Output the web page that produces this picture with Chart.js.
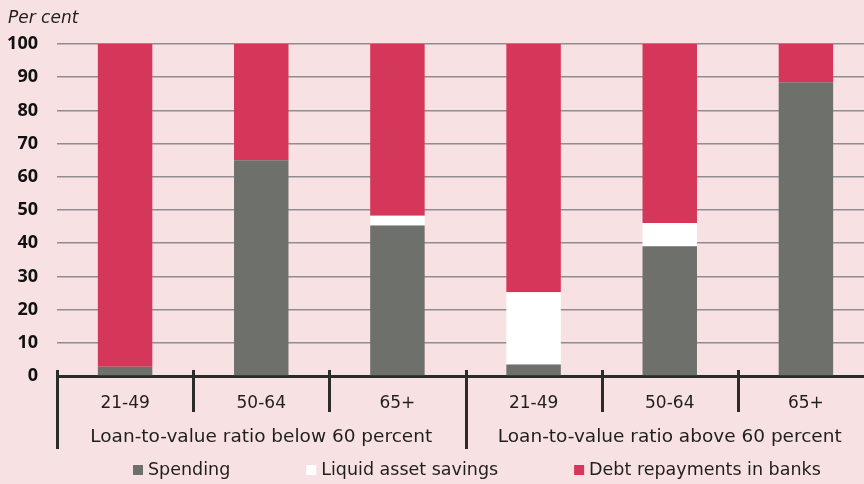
<!DOCTYPE html>
<html>
<head>
<meta charset="utf-8">
<script src="https://cdn.jsdelivr.net/npm/chart.js@4.4.1/dist/chart.umd.min.js"></script>
<style>
  html, body { margin: 0; padding: 0; background: #f8e1e2; }
  #wrap { width: 864px; height: 484px; overflow: hidden; position: relative; }
  canvas { display: block; }
</style>
</head>
<body>
<div id="wrap"><canvas id="c" width="874" height="484"></canvas></div>
<script>
// Age bands, one bar each, grouped by loan-to-value ratio
const ageBands = ['21-49', '50-64', '65+', '21-49', '50-64', '65+'];
const groupLabels = ['Loan-to-value ratio below 60 percent', 'Loan-to-value ratio above 60 percent'];
const groupSize = 3;

// Share of each use, per cent
const spending = [2.8, 65, 45.3, 3.5, 39.1, 88.5];
const liquidSavings = [0, 0, 3.0, 21.7, 7.0, 0];
const debtRepayments = [97.2, 35, 51.7, 74.8, 53.9, 11.5];

const seriesNames = ['Spending', 'Liquid asset savings', 'Debt repayments in banks'];
const yTicks = [0, 10, 20, 30, 40, 50, 60, 70, 80, 90, 100];

const FONT = '"DejaVu Sans", "Open Sans", sans-serif';
const NUMFONT = '"Open Sans", "DejaVu Sans", sans-serif';
const INK = '#1f1f1d';
const AXIS = '#2b2b29';

// Separators, group captions, unit label and legend row
const decorations = {
  id: 'decorations',
  afterDraw(chart) {
    const { ctx, scales } = chart;
    const x = scales.x, y = scales.y;
    const base = y.getPixelForValue(0);
    ctx.save();
    ctx.strokeStyle = AXIS;
    ctx.lineWidth = 3;
    for (let i = 0; i <= ageBands.length; i++) {
      const px = Math.round(x.getPixelForValue(i - 0.5)) + 0.5;
      const long = i % groupSize === 0;
      ctx.beginPath();
      ctx.moveTo(px, base - 6);
      ctx.lineTo(px, long ? base + 73 : base + 36);
      ctx.stroke();
    }
    ctx.fillStyle = INK;
    ctx.font = '18.5px ' + FONT;
    ctx.textAlign = 'center';
    ctx.textBaseline = 'middle';
    groupLabels.forEach((g, k) => {
      const a = x.getPixelForValue(k * groupSize - 0.5);
      const b = x.getPixelForValue((k + 1) * groupSize - 0.5);
      ctx.fillText(g, (a + b) / 2, base + 61);
    });

    // Unit label
    ctx.font = 'italic 17px ' + FONT;
    ctx.textAlign = 'left';
    ctx.textBaseline = 'alphabetic';
    ctx.fillText('Per cent', 8, 23);

    // Legend row
    ctx.font = '17.5px ' + FONT;
    const box = 10, gapText = 5, gapItem = 76;
    const items = chart.data.datasets.map(d => ({
      label: d.label, color: d.backgroundColor,
      w: box + gapText + ctx.measureText(d.label).width
    }));
    const total = items.reduce((s, it) => s + it.w, 0) + gapItem * (items.length - 1);
    let cx = Math.round(477 - total / 2);
    const ly = 470;
    ctx.textBaseline = 'middle';
    items.forEach(it => {
      ctx.fillStyle = it.color;
      ctx.fillRect(cx, ly - box / 2, box, box);
      ctx.fillStyle = INK;
      ctx.fillText(it.label, cx + box + gapText, ly);
      cx += it.w + gapItem;
    });
    ctx.restore();
  }
};

new Chart(document.getElementById('c'), {
  type: 'bar',
  data: {
    labels: ageBands,
    datasets: [
      { label: seriesNames[0], data: spending, backgroundColor: '#6e706c' },
      { label: seriesNames[1], data: liquidSavings, backgroundColor: '#ffffff' },
      { label: seriesNames[2], data: debtRepayments, backgroundColor: '#d43759' }
    ]
  },
  options: {
    responsive: false,
    animation: false,
    devicePixelRatio: 1,
    layout: { padding: { top: 44, left: 0, right: 0, bottom: 0 } },
    datasets: { bar: { barPercentage: 0.4, categoryPercentage: 1, borderWidth: 0 } },
    plugins: { legend: { display: false }, tooltip: { enabled: false }, title: { display: false } },
    scales: {
      x: {
        stacked: true,
        grid: { display: false, drawTicks: false },
        border: { display: true, color: AXIS, width: 3 },
        ticks: { color: INK, font: { family: FONT, size: 17 }, padding: 17, maxRotation: 0 },
        afterFit(s) { s.height = 108; }
      },
      y: {
        stacked: true,
        min: 0,
        max: 100,
        afterBuildTicks(s) { s.ticks = yTicks.map(v => ({ value: v })); },
        grid: { color: '#8e8e8e', lineWidth: 1.5, drawTicks: false },
        border: { display: false },
        ticks: { color: '#111', font: { family: NUMFONT, size: 18, weight: 'bold' }, padding: 19 },
        afterFit(s) { s.width = 57; }
      }
    }
  },
  plugins: [decorations]
});
</script>
</body>
</html>
